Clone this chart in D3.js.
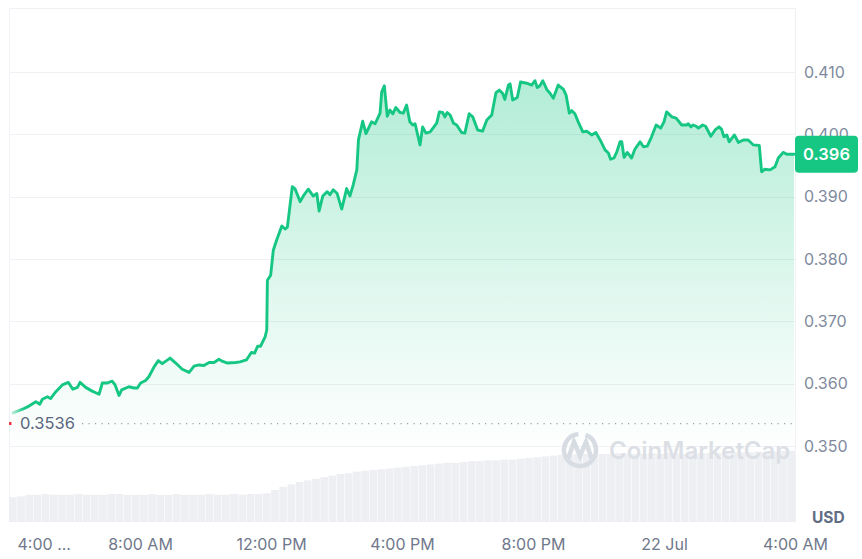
<!DOCTYPE html>
<html>
<head>
<meta charset="utf-8">
<script src="https://cdn.jsdelivr.net/npm/d3@7"></script>
<style>
  html, body { margin: 0; padding: 0; background: #fff; }
  svg { display: block; font-family: Inter, "Noto Sans", sans-serif; }
</style>
</head>
<body>
<svg id="chart" width="862" height="559"></svg>
<script>
// ---- Data (hours since 4:00 AM, price in USD) ----
const hours = [0.12,0.41,0.61,0.82,0.94,1.02,1.17,1.27,1.43,1.63,1.81,1.95,2.09,2.17,2.34,2.54,2.75,2.85,3.00,3.15,3.24,3.36,3.44,3.66,3.82,3.92,4.02,4.17,4.27,4.43,4.56,4.68,4.92,5.09,5.29,5.50,5.65,5.80,5.95,6.11,6.26,6.41,6.51,6.67,6.92,7.05,7.25,7.40,7.50,7.59,7.68,7.82,7.87,7.89,7.99,8.07,8.17,8.33,8.43,8.50,8.65,8.73,8.89,9.01,9.14,9.29,9.40,9.47,9.58,9.72,9.80,9.90,10.02,10.16,10.31,10.41,10.51,10.62,10.67,10.80,10.90,11.07,11.18,11.33,11.38,11.46,11.55,11.63,11.72,11.81,11.94,12.04,12.14,12.24,12.33,12.40,12.55,12.63,12.73,12.86,13.06,13.14,13.24,13.31,13.38,13.47,13.57,13.67,13.82,13.92,14.05,14.16,14.31,14.46,14.59,14.74,14.87,14.97,15.07,15.14,15.25,15.30,15.38,15.52,15.62,15.81,15.96,16.06,16.13,16.21,16.30,16.42,16.52,16.62,16.77,16.93,17.01,17.11,17.18,17.28,17.38,17.52,17.64,17.79,17.92,18.05,18.20,18.30,18.37,18.47,18.56,18.66,18.71,18.78,18.88,19.01,19.11,19.27,19.37,19.49,19.62,19.76,19.90,20.00,20.08,20.24,20.37,20.54,20.69,20.74,20.82,20.89,20.98,21.05,21.18,21.27,21.43,21.56,21.68,21.76,21.83,21.92,21.99,22.15,22.27,22.42,22.57,22.73,22.91,22.98,23.08,23.24,23.39,23.49,23.64,23.75,23.85,23.97];
const prices = [0.3553,0.3559,0.3564,0.3571,0.3567,0.3575,0.3579,0.3576,0.3587,0.3598,0.3602,0.3591,0.3594,0.3602,0.3594,0.3588,0.3583,0.3601,0.3601,0.3604,0.3598,0.3581,0.3590,0.3595,0.3593,0.3593,0.3601,0.3605,0.3611,0.3627,0.3637,0.3632,0.3641,0.3633,0.3623,0.3618,0.3628,0.3630,0.3629,0.3634,0.3634,0.3639,0.3636,0.3633,0.3634,0.3635,0.3638,0.3650,0.3649,0.3660,0.3660,0.3675,0.3686,0.3766,0.3774,0.3814,0.3830,0.3853,0.3848,0.3851,0.3916,0.3913,0.3892,0.3903,0.3912,0.3901,0.3905,0.3877,0.3901,0.3908,0.3903,0.3911,0.3905,0.3880,0.3913,0.3901,0.3919,0.3943,0.3991,0.4021,0.4001,0.4020,0.4017,0.4034,0.4068,0.4078,0.4029,0.4039,0.4033,0.4043,0.4035,0.4034,0.4047,0.4020,0.4015,0.4017,0.3983,0.4012,0.4002,0.4004,0.4018,0.4036,0.4035,0.4028,0.4035,0.4031,0.4018,0.4015,0.4003,0.4002,0.4033,0.4028,0.4007,0.4005,0.4023,0.4031,0.4067,0.4071,0.4066,0.4056,0.4079,0.4081,0.4055,0.4059,0.4084,0.4082,0.4079,0.4086,0.4075,0.4078,0.4086,0.4072,0.4066,0.4058,0.4079,0.4072,0.4063,0.4034,0.4038,0.4033,0.4020,0.4004,0.4005,0.3999,0.4003,0.3991,0.3975,0.3970,0.3960,0.3962,0.3972,0.3988,0.3988,0.3963,0.3971,0.3962,0.3976,0.3988,0.3980,0.3981,0.3996,0.4015,0.4010,0.4020,0.4036,0.4028,0.4026,0.4015,0.4015,0.4017,0.4012,0.4015,0.4013,0.4010,0.4015,0.4013,0.3997,0.4007,0.4012,0.4008,0.3996,0.3999,0.3988,0.3999,0.3987,0.3991,0.3991,0.3983,0.3982,0.3940,0.3944,0.3943,0.3948,0.3962,0.3971,0.3968,0.3968,0.3968];
// volume per 15-minute slot (relative units)
const volumes = [31,32,34,34,35,34,34,34,35,34,34,34,35,35,34,34,34,35,34,34,35,34,34,34,35,34,34,35,34,35,35,36,40,44,47,50,52,54,56,58,60,61,63,64,65,66,67,68,69,70,71,72,73,74,74,75,76,76,77,77,78,78,79,80,81,82,83,84,84,85,85,85,85,85,86,85,85,85,86,85,86,86,85,86,86,86,86,87,87,87,87,88,88,88,89,89];
const priceTicks = [0.350,0.360,0.370,0.380,0.390,0.400,0.410];
const timeTicks = [0,4,8,12,16,20,24];
const timeLabels = ["4:00 ...","8:00 AM","12:00 PM","4:00 PM","8:00 PM","22 Jul","4:00 AM"];
const openPrice = 0.3536;
const lastLabel = "0.396";

// ---- Layout ----
const svg = d3.select("#chart");
const L = 9, R = 795, T = 8, B = 522;
const x = d3.scaleLinear().domain([0, 24]).range([L, R]);
const y = d3.scaleLinear().domain([0.33780, 0.42027]).range([B, T]);
const vx = d3.scaleBand().domain(d3.range(volumes.length)).range([L, R]).paddingInner(0.06);
const vy = d3.scaleLinear().domain([0, 100]).range([B, 442]);

const defs = svg.append("defs");
const ag = defs.append("linearGradient").attr("id","areaGrad")
  .attr("gradientUnits","userSpaceOnUse").attr("x1",0).attr("x2",0).attr("y1",80).attr("y2",450);
ag.append("stop").attr("offset","0%").attr("stop-color","#16c784").attr("stop-opacity",0.33);
ag.append("stop").attr("offset","55%").attr("stop-color","#16c784").attr("stop-opacity",0.14);
ag.append("stop").attr("offset","100%").attr("stop-color","#16c784").attr("stop-opacity",0.0);
const lg = defs.append("linearGradient").attr("id","lineGrad")
  .attr("gradientUnits","userSpaceOnUse").attr("x1",10).attr("x2",24).attr("y1",0).attr("y2",0);
lg.append("stop").attr("offset","0%").attr("stop-color","#16c784").attr("stop-opacity",0.15);
lg.append("stop").attr("offset","100%").attr("stop-color","#16c784").attr("stop-opacity",1);

// gridlines
const gridCol = "#eff1f4";
svg.append("g").selectAll("line").data(priceTicks).join("line")
  .attr("x1", L).attr("x2", R).attr("y1", d => Math.round(y(d)) + 0.5).attr("y2", d => Math.round(y(d)) + 0.5)
  .attr("stroke", gridCol).attr("stroke-width", 1);
// frame
svg.append("line").attr("x1",L).attr("x2",R).attr("y1",T+0.5).attr("y2",T+0.5).attr("stroke",gridCol);
svg.append("line").attr("x1",L+0.5).attr("x2",L+0.5).attr("y1",T).attr("y2",B).attr("stroke",gridCol);
svg.append("line").attr("x1",R+0.5).attr("x2",R+0.5).attr("y1",T).attr("y2",B).attr("stroke",gridCol);

// volume bars
svg.append("g").selectAll("rect").data(volumes).join("rect")
  .attr("x", (d,i) => vx(i)).attr("width", vx.bandwidth())
  .attr("y", d => vy(d)).attr("height", d => B - vy(d))
  .attr("fill", "#edeff3");

// watermark
const wm = svg.append("g").attr("fill","none").attr("stroke","#d8dce3").attr("stroke-width",4.5).attr("stroke-linecap","round");
wm.append("path").attr("d", d3.arc()({innerRadius:16, outerRadius:16, startAngle: 0.35, endAngle: 2*Math.PI - 0.1}))
  .attr("transform","translate(580,450)");
wm.append("path").attr("d","M568,459 L574,442 L580,456 L586,442 L591,457");
svg.append("text").attr("x",609).attr("y",459).attr("font-size",24).attr("font-weight",600)
  .attr("fill","#dcdfe5").text("CoinMarketCap");

// area + line
const area = d3.area().x((d,i) => x(hours[i])).y0(B).y1(d => y(d)).curve(d3.curveLinear);
svg.append("path").datum(prices).attr("d", area).attr("fill","url(#areaGrad)");
const line = d3.line().x((d,i) => x(hours[i])).y(d => y(d));
svg.append("path").datum(prices).attr("d", line).attr("fill","none")
  .attr("stroke","url(#lineGrad)").attr("stroke-width",2.9).attr("stroke-linejoin","round").attr("stroke-linecap","round");

// open price reference
svg.append("line").attr("x1",82).attr("x2",793).attr("y1",y(openPrice)).attr("y2",y(openPrice))
  .attr("stroke","#9aa2b1").attr("stroke-width",1.2).attr("stroke-dasharray","1.2 5.3");
svg.append("rect").attr("x",9).attr("y",y(openPrice)-1.5).attr("width",2.5).attr("height",3).attr("fill","#ea3943");
svg.append("text").attr("x",20).attr("y",y(openPrice)).attr("dy","0.36em").attr("font-size",16.5)
  .attr("fill","#58667e").text(openPrice.toFixed(4));

// y axis
const yAxis = d3.axisRight(y).tickValues(priceTicks).tickFormat(d3.format(".3f")).tickSize(0).tickPadding(9);
const ya = svg.append("g").attr("transform",`translate(${R},0)`).call(yAxis);
ya.select(".domain").remove();
ya.selectAll("text").attr("font-size",16).attr("fill","#808a9d").attr("font-family","Inter, sans-serif");

// x axis
const xAxis = d3.axisBottom(x).tickValues(timeTicks).tickFormat((d,i) => timeLabels[i]).tickSize(0).tickPadding(17);
const xa = svg.append("g").attr("transform",`translate(0,${B})`).call(xAxis);
xa.select(".domain").remove();
xa.selectAll("text").attr("font-size",16).attr("fill","#6f788b").attr("font-family","Inter, sans-serif");
xa.selectAll(".tick").filter((d,i) => i === 0).select("text").attr("text-anchor","start").attr("x",8);

// USD
svg.append("text").attr("x",812).attr("y",523).attr("font-size",15.5).attr("font-weight",700)
  .attr("fill","#616e85").text("USD");

// last price tag
const lastY = y(prices[prices.length-1]);
svg.append("rect").attr("x",795).attr("y",lastY-18.5).attr("width",63).attr("height",37).attr("rx",4).attr("fill","#16c784");
svg.append("text").attr("x",826.5).attr("y",lastY).attr("dy","0.36em").attr("text-anchor","middle")
  .attr("font-size",16.5).attr("font-weight",600).attr("fill","#fff").text(lastLabel);
</script>
</body>
</html>
